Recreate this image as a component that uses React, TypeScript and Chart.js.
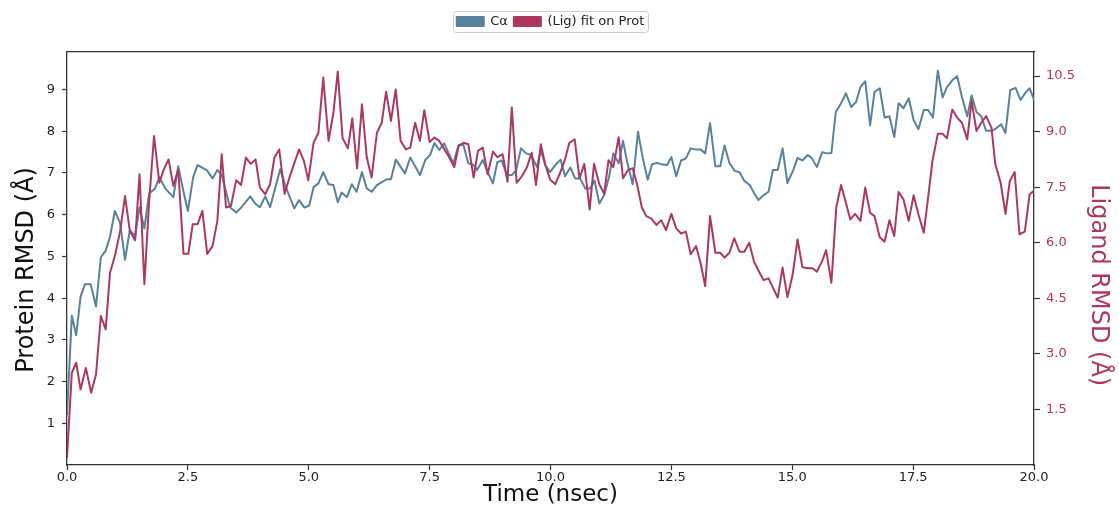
import React, { useEffect, useRef } from 'react';
import { Chart, registerables } from 'chart.js';

Chart.register(...registerables);

// ---- data ----
const seriesLabels = ['Cα', '(Lig) fit on Prot'];

const proteinTime = [
  0, 0.1, 0.19, 0.28, 0.37, 0.49, 0.6, 0.7, 0.8, 0.89,
  0.99, 1.1, 1.2, 1.3, 1.41, 1.5, 1.6, 1.7, 1.82, 1.91,
  2.03, 2.2, 2.3, 2.41, 2.5, 2.61, 2.7, 2.89, 3.01, 3.11,
  3.2, 3.29, 3.37, 3.5, 3.61, 3.79, 3.89, 3.99, 4.1, 4.2,
  4.41, 4.51, 4.7, 4.8, 4.91, 5.01, 5.1, 5.2, 5.3, 5.41,
  5.51, 5.6, 5.68, 5.79, 5.89, 5.99, 6.1, 6.2, 6.3, 6.41,
  6.61, 6.7, 6.8, 6.99, 7.1, 7.3, 7.41, 7.51, 7.6, 7.7,
  7.8, 7.99, 8.1, 8.2, 8.3, 8.41, 8.48, 8.6, 8.7, 8.81,
  8.9, 8.99, 9.1, 9.2, 9.29, 9.39, 9.5, 9.6, 9.72, 9.8,
  9.89, 9.99, 10.1, 10.21, 10.3, 10.41, 10.51, 10.61, 10.72, 10.82,
  10.91, 11.01, 11.11, 11.21, 11.3, 11.41, 11.5, 11.59, 11.7, 11.81,
  11.91, 12.01, 12.1, 12.2, 12.3, 12.41, 12.5, 12.6, 12.7, 12.8,
  12.9, 13.01, 13.11, 13.2, 13.3, 13.41, 13.51, 13.6, 13.7, 13.81,
  13.91, 14.01, 14.12, 14.21, 14.3, 14.41, 14.51, 14.6, 14.7, 14.8,
  14.9, 15.02, 15.11, 15.21, 15.32, 15.41, 15.51, 15.62, 15.72, 15.81,
  15.9, 16.01, 16.11, 16.22, 16.32, 16.41, 16.51, 16.61, 16.7, 16.81,
  16.91, 17.01, 17.11, 17.2, 17.3, 17.41, 17.51, 17.61, 17.72, 17.81,
  17.91, 18.01, 18.11, 18.2, 18.31, 18.41, 18.51, 18.62, 18.71, 18.81,
  18.91, 19.01, 19.12, 19.22, 19.32, 19.41, 19.51, 19.62, 19.72, 19.82,
  19.91, 20,
];
const proteinRmsd = [
  1.2, 3.58, 3.11, 4.03, 4.33, 4.33, 3.8, 4.98, 5.14, 5.47,
  6.09, 5.79, 4.92, 5.63, 5.49, 6.18, 5.67, 6.51, 6.63, 6.9,
  6.63, 6.42, 7.16, 6.55, 6.09, 6.9, 7.19, 7.07, 6.87, 7.07,
  6.95, 6.55, 6.18, 6.05, 6.18, 6.44, 6.27, 6.18, 6.44, 6.18,
  7.09, 6.71, 6.15, 6.35, 6.17, 6.22, 6.66, 6.75, 7.02, 6.73,
  6.71, 6.3, 6.53, 6.42, 6.73, 6.55, 7.02, 6.63, 6.55, 6.71,
  6.85, 6.85, 7.32, 6.99, 7.37, 6.95, 7.31, 7.43, 7.72, 7.55,
  7.71, 7.23, 7.67, 7.67, 7.23, 7.19, 7.07, 7.31, 7.02, 6.75,
  7.26, 7.3, 6.95, 6.95, 7.07, 7.59, 7.47, 7.43, 7.14, 7.55,
  7.19, 7.02, 7.19, 7.32, 6.92, 7.13, 6.87, 6.87, 6.63, 6.63,
  6.82, 6.27, 6.47, 6.9, 7.47, 7.23, 7.77, 7.24, 6.73, 7.99,
  7.35, 6.84, 7.21, 7.24, 7.21, 7.19, 7.38, 6.92, 7.3, 7.35,
  7.59, 7.56, 7.56, 7.47, 8.2, 7.16, 7.16, 7.66, 7.24, 7.05,
  7.02, 6.81, 6.71, 6.52, 6.35, 6.47, 6.55, 7.07, 7.07, 7.59,
  6.76, 7.07, 7.36, 7.3, 7.43, 7.35, 7.14, 7.5, 7.47, 7.48,
  8.46, 8.67, 8.91, 8.58, 8.7, 9.06, 9.2, 8.14, 8.94, 9.03,
  8.33, 8.36, 7.86, 8.67, 8.55, 8.79, 8.27, 8.05, 8.51, 8.51,
  8.33, 9.45, 8.81, 9.06, 9.22, 9.32, 8.82, 8.36, 8.86, 8.46,
  8.36, 8.01, 8.01, 8.07, 8.17, 7.96, 8.99, 9.04, 8.75, 8.92,
  9.03, 8.75,
];

const ligandTime = [
  0, 0.1, 0.19, 0.28, 0.39, 0.5, 0.6, 0.7, 0.8, 0.89,
  0.99, 1.1, 1.2, 1.3, 1.41, 1.5, 1.6, 1.7, 1.8, 1.91,
  1.99, 2.1, 2.2, 2.3, 2.41, 2.51, 2.6, 2.7, 2.8, 2.9,
  3.01, 3.11, 3.2, 3.29, 3.39, 3.5, 3.6, 3.7, 3.8, 3.9,
  3.99, 4.1, 4.2, 4.29, 4.39, 4.5, 4.61, 4.8, 4.9, 4.99,
  5.1, 5.2, 5.3, 5.41, 5.51, 5.6, 5.7, 5.81, 5.9, 6.0,
  6.1, 6.2, 6.3, 6.41, 6.51, 6.6, 6.7, 6.8, 6.9, 7.01,
  7.1, 7.2, 7.3, 7.39, 7.5, 7.6, 7.7, 7.89, 8.01, 8.1,
  8.2, 8.3, 8.41, 8.5, 8.6, 8.7, 8.81, 8.9, 9.01, 9.11,
  9.2, 9.3, 9.41, 9.51, 9.61, 9.7, 9.8, 9.89, 9.99, 10.1,
  10.2, 10.3, 10.39, 10.5, 10.6, 10.7, 10.81, 10.9, 11.01, 11.11,
  11.2, 11.3, 11.41, 11.5, 11.6, 11.7, 11.79, 11.89, 11.98, 12.08,
  12.19, 12.29, 12.39, 12.5, 12.6, 12.7, 12.8, 12.9, 13.01, 13.11,
  13.2, 13.3, 13.41, 13.51, 13.6, 13.7, 13.8, 13.91, 14.01, 14.11,
  14.21, 14.3, 14.41, 14.51, 14.6, 14.7, 14.8, 14.9, 15.01, 15.11,
  15.21, 15.32, 15.42, 15.51, 15.62, 15.7, 15.81, 15.91, 16.01, 16.11,
  16.2, 16.3, 16.41, 16.51, 16.61, 16.7, 16.81, 16.91, 17.01, 17.11,
  17.2, 17.3, 17.41, 17.51, 17.61, 17.72, 17.81, 17.9, 18.01, 18.11,
  18.2, 18.31, 18.41, 18.51, 18.62, 18.71, 18.81, 18.91, 19.01, 19.12,
  19.2, 19.31, 19.41, 19.5, 19.6, 19.7, 19.81, 19.91, 20,
];
const ligandRmsd = [
  0.2, 2.49, 2.76, 2.04, 2.62, 1.95, 2.45, 4.02, 3.66, 5.19,
  5.64, 6.32, 7.26, 6.32, 6.07, 7.85, 4.88, 7.13, 8.88, 7.62,
  7.94, 8.25, 7.53, 7.98, 5.7, 5.7, 6.5, 6.5, 6.86, 5.7,
  5.91, 6.59, 8.39, 6.95, 6.99, 7.69, 7.56, 8.3, 8.13, 8.25,
  7.49, 7.31, 7.58, 8.3, 8.52, 7.32, 7.8, 8.52, 8.21, 7.69,
  8.7, 8.97, 10.46, 8.75, 9.51, 10.62, 8.82, 8.55, 9.36, 8.01,
  9.74, 8.3, 7.76, 8.97, 9.24, 10.08, 9.29, 10.14, 8.75, 8.52,
  8.57, 9.24, 8.75, 9.58, 8.72, 8.84, 8.75, 8.34, 8.04, 8.61,
  8.7, 8.66, 7.76, 8.48, 8.57, 7.85, 8.46, 8.31, 8.39, 7.65,
  9.65, 7.62, 7.8, 8.03, 8.43, 7.56, 8.66, 8.12, 7.71, 7.58,
  7.89, 8.25, 8.7, 8.79, 7.74, 8.13, 6.9, 8.13, 7.58, 7.32,
  8.23, 8.04, 8.85, 7.74, 7.96, 8.01, 7.58, 6.95, 6.72, 6.66,
  6.48, 6.61, 6.34, 6.78, 6.39, 6.25, 6.3, 5.69, 5.91, 5.42,
  4.83, 6.72, 5.73, 5.73, 5.6, 5.73, 6.12, 5.76, 5.76, 6.0,
  5.49, 5.25, 4.99, 5.04, 4.79, 4.52, 5.33, 4.53, 5.15, 6.09,
  5.34, 5.31, 5.31, 5.22, 5.51, 5.8, 4.92, 6.95, 7.56, 7.08,
  6.63, 6.78, 6.59, 7.49, 6.81, 6.72, 6.15, 6.03, 6.61, 6.18,
  7.37, 7.17, 6.59, 7.28, 6.77, 6.27, 7.22, 8.21, 8.94, 8.94,
  8.82, 9.6, 9.38, 9.24, 8.79, 9.83, 9.02, 9.24, 9.42, 9.11,
  8.12, 7.62, 6.78, 7.67, 7.91, 6.23, 6.3, 7.31, 7.4,
];

const timeTicks = [0, 2.5, 5, 7.5, 10, 12.5, 15, 17.5, 20];
const proteinTicks = [1, 2, 3, 4, 5, 6, 7, 8, 9];
const ligandTicks = [1.5, 3, 4.5, 6, 7.5, 9, 10.5];

const BLUE = 'rgb(88,129,155)';
const RED = 'rgb(172,56,98)';
const AXIS = '#333333';
const FONT = 'DejaVu Sans';

const legendFrame = {
  id: 'legendFrame',
  afterDraw(chart: any) {
    const lg = chart.legend;
    if (!lg || !lg.legendHitBoxes || !lg.legendHitBoxes.length) return;
    const boxes = lg.legendHitBoxes;
    const left = Math.min(...boxes.map((b: any) => b.left)) - 4;
    const right = Math.max(...boxes.map((b: any) => b.left + b.width)) + 4;
    const top = Math.min(...boxes.map((b: any) => b.top)) - 4;
    const bottom = Math.max(...boxes.map((b: any) => b.top + b.height)) + 4;
    const ctx = chart.ctx;
    ctx.save();
    ctx.strokeStyle = '#cccccc';
    ctx.lineWidth = 1;
    ctx.beginPath();
    ctx.roundRect(Math.round(left) + 0.5, Math.round(top) + 0.5, Math.round(right - left), Math.round(bottom - top), 3);
    ctx.stroke();
    ctx.restore();
  },
};

export default function App() {
  const ref = useRef<HTMLCanvasElement>(null);

  useEffect(() => {
    const proteinPoints = proteinTime.map((t, i) => ({ x: t, y: proteinRmsd[i] }));
    const ligandPoints = ligandTime.map((t, i) => ({ x: t, y: ligandRmsd[i] }));

    const chart = new Chart(ref.current as HTMLCanvasElement, {
      type: 'line',
      data: {
        datasets: [
          {
            label: seriesLabels[0],
            data: proteinPoints,
            yAxisID: 'y',
            borderColor: BLUE,
            backgroundColor: BLUE,
            borderWidth: 2,
            pointRadius: 0,
            tension: 0,
            borderJoinStyle: 'round',
            order: 1,
          },
          {
            label: seriesLabels[1],
            data: ligandPoints,
            yAxisID: 'y1',
            borderColor: RED,
            backgroundColor: RED,
            borderWidth: 2,
            pointRadius: 0,
            tension: 0,
            borderJoinStyle: 'round',
            order: 0,
          },
        ],
      },
      options: {
        responsive: false,
        animation: false,
        devicePixelRatio: 1,
        layout: { padding: { left: 15, right: 9, top: 9, bottom: 0 } },
        plugins: {
          tooltip: { enabled: false },
          legend: {
            position: 'top',
            fullSize: false,
            labels: {
              boxWidth: 27,
              boxHeight: 9,
              padding: 6,
              color: '#222222',
              font: { family: FONT, size: 13 },
              sort: (a: any, b: any) => a.datasetIndex - b.datasetIndex,
            },
          },
        },
        scales: {
          x: {
            type: 'linear',
            position: 'bottom',
            min: 0,
            max: 20,
            afterBuildTicks: (s: any) => { s.ticks = timeTicks.map((v) => ({ value: v })); },
            afterFit: (s: any) => { s.height = 42; },
            ticks: {
              color: '#222222',
              font: { family: FONT, size: 13 },
              padding: 0,
              maxRotation: 0,
              autoSkip: false,
              callback: (v: any) => Number(v).toFixed(1),
            },
            grid: { display: true, drawOnChartArea: false, drawTicks: true, tickLength: 5, color: AXIS, tickWidth: 1.2 },
            border: { display: true, color: AXIS, width: 1.3 },
            title: {
              display: true,
              text: 'Time (nsec)',
              color: '#111111',
              font: { family: FONT, size: 23, lineHeight: 1 },
              padding: { top: 0, bottom: 0 },
            },
          },
          xTop: {
            type: 'linear',
            position: 'top',
            min: 0,
            max: 20,
            afterFit: (s: any) => { s.height = 14; },
            ticks: { display: false },
            grid: { display: true, drawOnChartArea: false, drawTicks: false },
            border: { display: true, color: AXIS, width: 1.3 },
          },
          y: {
            type: 'linear',
            position: 'left',
            min: 0,
            max: 9.9,
            afterBuildTicks: (s: any) => { s.ticks = proteinTicks.map((v) => ({ value: v })); },
            afterFit: (s: any) => { s.width = 52; },
            ticks: {
              color: '#222222',
              font: { family: FONT, size: 13 },
              padding: 7,
              callback: (v: any) => String(v),
            },
            grid: { display: true, drawOnChartArea: false, drawTicks: true, tickLength: 5, color: AXIS, tickWidth: 1.2 },
            border: { display: true, color: AXIS, width: 1.3 },
            title: {
              display: true,
              text: 'Protein RMSD (Å)   ',
              color: '#111111',
              font: { family: FONT, size: 24, lineHeight: 1 },
              padding: { top: 0, bottom: 0 },
            },
          },
          y1: {
            type: 'linear',
            position: 'right',
            min: 0,
            max: 11.15,
            afterBuildTicks: (s: any) => { s.ticks = ligandTicks.map((v) => ({ value: v })); },
            afterFit: (s: any) => { s.width = 76; },
            ticks: {
              color: RED,
              font: { family: FONT, size: 13 },
              padding: 6,
              callback: (v: any) => Number(v).toFixed(1),
            },
            grid: { display: true, drawOnChartArea: false, drawTicks: true, tickLength: 6, color: AXIS, tickWidth: 1.2 },
            border: { display: true, color: AXIS, width: 1.3 },
            title: {
              display: true,
              text: '       Ligand RMSD (Å)',
              color: RED,
              font: { family: FONT, size: 24, lineHeight: 1 },
              padding: { top: 0, bottom: 0 },
            },
          },
        },
      },
      plugins: [legendFrame],
    } as any);

    return () => chart.destroy();
  }, []);

  return (
    <div style={{ position: 'absolute', left: 0, top: 0, width: 1119, height: 507, background: '#ffffff' }}>
      <canvas ref={ref} width={1119} height={507} style={{ display: 'block' }} />
    </div>
  );
}
